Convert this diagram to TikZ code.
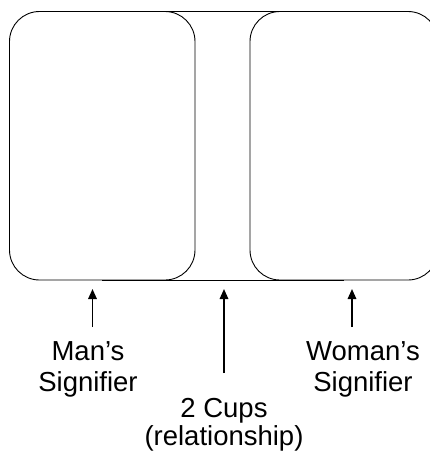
\documentclass[tikz,border=0pt]{standalone}
\usepackage{fontspec}
\setmainfont{Liberation Sans}
\usetikzlibrary{arrows.meta}
\begin{document}
\begin{tikzpicture}[x=1pt,y=1pt,
  cupbox/.style={draw=black,line width=0.9pt,rounded corners=30pt,inner sep=0pt},
  lbl/.style={align=center,inner sep=0pt,anchor=north,font=\fontsize{27.5}{30.5}\selectfont},
  pointer/.style={line width=1.6pt,-{Triangle[length=10pt,width=8.5pt]}}]
\useasboundingbox (0,0) rectangle (430,-451);
\node[cupbox,minimum width=185.5pt,minimum height=268.5pt] (man) at (102.25,-145.75) {};
\node[cupbox,minimum width=188pt,minimum height=268.5pt] (woman) at (344,-145.75) {};
\draw[line width=0.9pt] (man.north) -- (woman.north);
\draw[line width=0.9pt] (man.south) -- (woman.south);
\node[lbl] (lman) at (88,-341.5) {Man’s\\Signifier};
\node[lbl] (lwoman) at (363,-341.5) {Woman’s\\Signifier};
\node[lbl] (lcups) at (224,-398) {2 Cups\\[-2pt](relationship)};
\coordinate (aman) at (92.5,-289);
\coordinate (awoman) at (352,-289);
\coordinate (acups) at (224,-289);
\coordinate (sman) at (92.5,-327);
\coordinate (swoman) at (352,-327);
\coordinate (scups) at (224,-373);
\draw[pointer] (sman) -- (aman);
\draw[pointer] (swoman) -- (awoman);
\draw[pointer] (scups) -- (acups);
\end{tikzpicture}
\end{document}
